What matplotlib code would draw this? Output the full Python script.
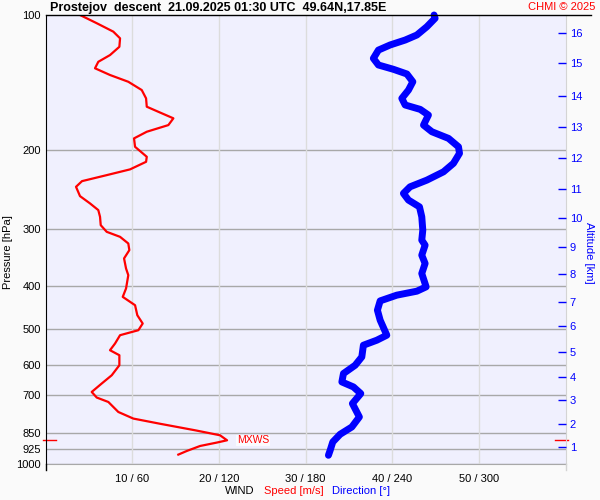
import numpy as np
import matplotlib.pyplot as plt
from matplotlib.lines import Line2D
from matplotlib.ticker import FixedLocator, NullLocator

plt.rcParams['font.family'] = ['Liberation Sans', 'DejaVu Sans']

# wind speed [m/s] vs pressure [hPa]
spd_p = [100, 104.3, 108.9, 112.7, 117.7, 122.8, 127.1, 131.4, 136.0, 140.8,
         146.9, 153.3, 160.0, 164.2, 169.8, 175.8, 181.9, 188.2, 196.5, 206.8,
         212.2, 220.6, 227.2, 234.3, 241.2, 253.0, 262.6, 271.8, 281.3, 293.6,
         303.8, 311.7, 322.5, 333.7, 348.2, 366.6, 379.4, 406.1, 424.0, 442.5,
         465.8, 486.0, 503.0, 516.0, 538.5, 557.3, 571.8, 601.9, 633.6, 661.1,
         690.2, 710.3, 726.6, 764.8, 791.1, 812.4, 840.0, 861.8, 884.2, 894.7,
         910.4, 934.1, 951.5]
spd = [3.98, 5.91, 7.82, 8.60, 8.52, 7.44, 6.09, 5.71, 7.44, 9.55,
       11.10, 11.60, 11.68, 13.01, 14.75, 14.17, 11.68, 10.21, 10.33, 11.68,
       11.60, 9.75, 7.06, 4.21, 3.52, 3.98, 5.13, 6.09, 6.29, 6.37,
       7.06, 8.60, 9.55, 9.67, 9.06, 9.29, 9.55, 9.29, 8.91, 10.33,
       10.59, 11.21, 10.71, 8.60, 8.02, 7.44, 8.52, 8.52, 7.64, 6.48,
       5.33, 5.91, 7.25, 8.40, 10.13, 13.21, 17.25, 20.13, 20.94, 19.75,
       17.83, 16.29, 15.32]

# wind direction [deg] vs pressure [hPa]
dir_p = [100, 101.7, 106.2, 110.8, 113.7, 116.6, 119.7, 124.9, 129.2, 132.1,
         135.3, 140.8, 146.9, 153.3, 158.6, 162.2, 167.0, 175.8, 181.9, 188.2,
         196.5, 203.2, 213.9, 223.4, 233.1, 241.2, 249.5, 258.2, 267.3, 281.3,
         301.2, 317.0, 325.3, 342.4, 357.3, 376.1, 402.8, 411.8, 420.3, 432.8,
         453.9, 477.8, 516.0, 529.4, 543.2, 576.8, 601.9, 628.0, 655.7, 672.7,
         695.9, 732.5, 784.6, 825.9, 857.4, 892.0, 930.8, 954.9]
wdir = [268.9, 269.6, 263.9, 257.0, 248.9, 238.5, 230.4, 226.9, 230.4, 240.8,
        250.1, 254.2, 251.2, 246.6, 248.9, 259.3, 265.0, 261.6, 267.4, 278.9,
        285.8, 286.5, 282.3, 275.4, 263.9, 252.3, 247.7, 251.2, 258.8, 260.4,
        261.1, 260.4, 262.7, 260.4, 262.7, 260.4, 263.4, 257.0, 243.1, 231.6,
        229.7, 231.6, 236.2, 229.3, 220.0, 218.9, 214.3, 206.2, 205.1, 213.1,
        218.2, 212.4, 217.2, 212.0, 203.9, 198.8, 197.0, 195.8]

p_levels = [100, 200, 300, 400, 500, 600, 700, 850, 925, 1000]
x_ticks = [60, 120, 180, 240, 300]
x_labels = ['10 / 60', '20 / 120', '30 / 180', '40 / 240', '50 / 300']
alt_km = list(range(1, 17))
alt_p = [915.1, 811.6, 720.2, 639.1, 562.2, 492.7, 435.0, 378.0,
         328.1, 283.6, 244.4, 207.9, 177.3, 151.5, 128.1, 109.8]

title = 'Prostejov  descent  21.09.2025 01:30 UTC  49.64N,17.85E'

fig = plt.figure(figsize=(6, 5), dpi=100, facecolor='#fafafa')
ax = fig.add_axes([45.5 / 600, 35.7 / 500, 520.2 / 600, 449.3 / 500])
ax.set_facecolor('#f0f0fe')
ax.set_yscale('log')
ax.set_ylim(1000, 100)
ax.set_xlim(0, 360)

ax.yaxis.set_major_locator(FixedLocator(p_levels))
ax.yaxis.set_minor_locator(NullLocator())
ax.set_yticklabels([str(p) for p in p_levels])
ax.set_xticks(x_ticks)
ax.set_xticklabels(x_labels)
ax.tick_params(axis='y', length=0, pad=3.5, labelsize=8)
ax.tick_params(axis='x', length=0, pad=7, labelsize=8)

# grid
for p in p_levels[1:]:
    ax.axhline(p, color='#a8a8a8', lw=1, zorder=1)
for x in x_ticks:
    ax.axvline(x, color='#dcdcdc', lw=1, zorder=1)

ax.spines['left'].set_color('black')
ax.spines['top'].set_visible(False)
ax.spines['right'].set_color('#d4d4d4')
ax.spines['bottom'].set_color('#a8a8a8')

# top line and small extensions below the frame
fig.add_artist(Line2D([45.5 / 600, 591 / 600], [485 / 500, 485 / 500], color='black', lw=1))
fig.add_artist(Line2D([45.5 / 600, 45.5 / 600], [30 / 500, 35.7 / 500], color='black', lw=1))
fig.add_artist(Line2D([565.7 / 600, 565.7 / 600], [30 / 500, 35.7 / 500], color='#d4d4d4', lw=1))

# data
ax.plot(np.array(spd) * 6, spd_p, color='red', lw=1.6, zorder=3)
ax.plot(wdir, dir_p, color='blue', lw=5, solid_capstyle='round', zorder=4, clip_on=False)

# max wind speed
imax = int(np.argmax(spd))
pmx = spd_p[imax]
ax.annotate('MXWS', (spd[imax] * 6, pmx), xytext=(7, 0), textcoords='offset points',
            color='red', fontsize=7.5, va='center', ha='left',
            bbox=dict(facecolor='white', edgecolor='none', pad=0.5, alpha=0.8))
tr = ax.get_yaxis_transform()
ax.plot([-0.005, 0.02], [pmx, pmx], transform=tr, color='red', lw=1, clip_on=False)
ax.plot([0.98, 1.005], [pmx, pmx], transform=tr, color='red', lw=1, clip_on=False)

# altitude axis
ax2 = ax.twinx()
ax2.set_yscale('log')
ax2.set_ylim(1000, 100)
ax2.yaxis.set_major_locator(FixedLocator(alt_p))
ax2.yaxis.set_minor_locator(NullLocator())
ax2.set_yticklabels([str(k) for k in alt_km])
ax2.tick_params(axis='y', direction='in', length=6, width=1, color='blue',
                labelcolor='blue', labelsize=8, pad=3)
for s in ax2.spines.values():
    s.set_visible(False)

# texts
fig.text(50 / 600, 1 - 7.5 / 500, title, fontsize=9, fontweight='bold', ha='left', va='center')
fig.text(595 / 600, 1 - 7 / 500, 'CHMI © 2025', color='red', fontsize=8, ha='right', va='center')
fig.text(8 / 600, 1 - 252 / 500, 'Pressure [hPa]', rotation=90, fontsize=8, ha='center', va='center')
fig.text(589.5 / 600, 1 - 252.7 / 500, 'Altitude [km]', rotation=270, color='blue',
         fontsize=8, ha='center', va='center')
fig.text(225 / 600, 1 - 490.7 / 500, 'WIND', fontsize=8, ha='left', va='center')
fig.text(264 / 600, 1 - 490.7 / 500, 'Speed [m/s]', color='red', fontsize=8, ha='left', va='center')
fig.text(332 / 600, 1 - 490.7 / 500, 'Direction [°]', color='blue', fontsize=8, ha='left', va='center')

fig.savefig('out.png', dpi=100, facecolor=fig.get_facecolor())
